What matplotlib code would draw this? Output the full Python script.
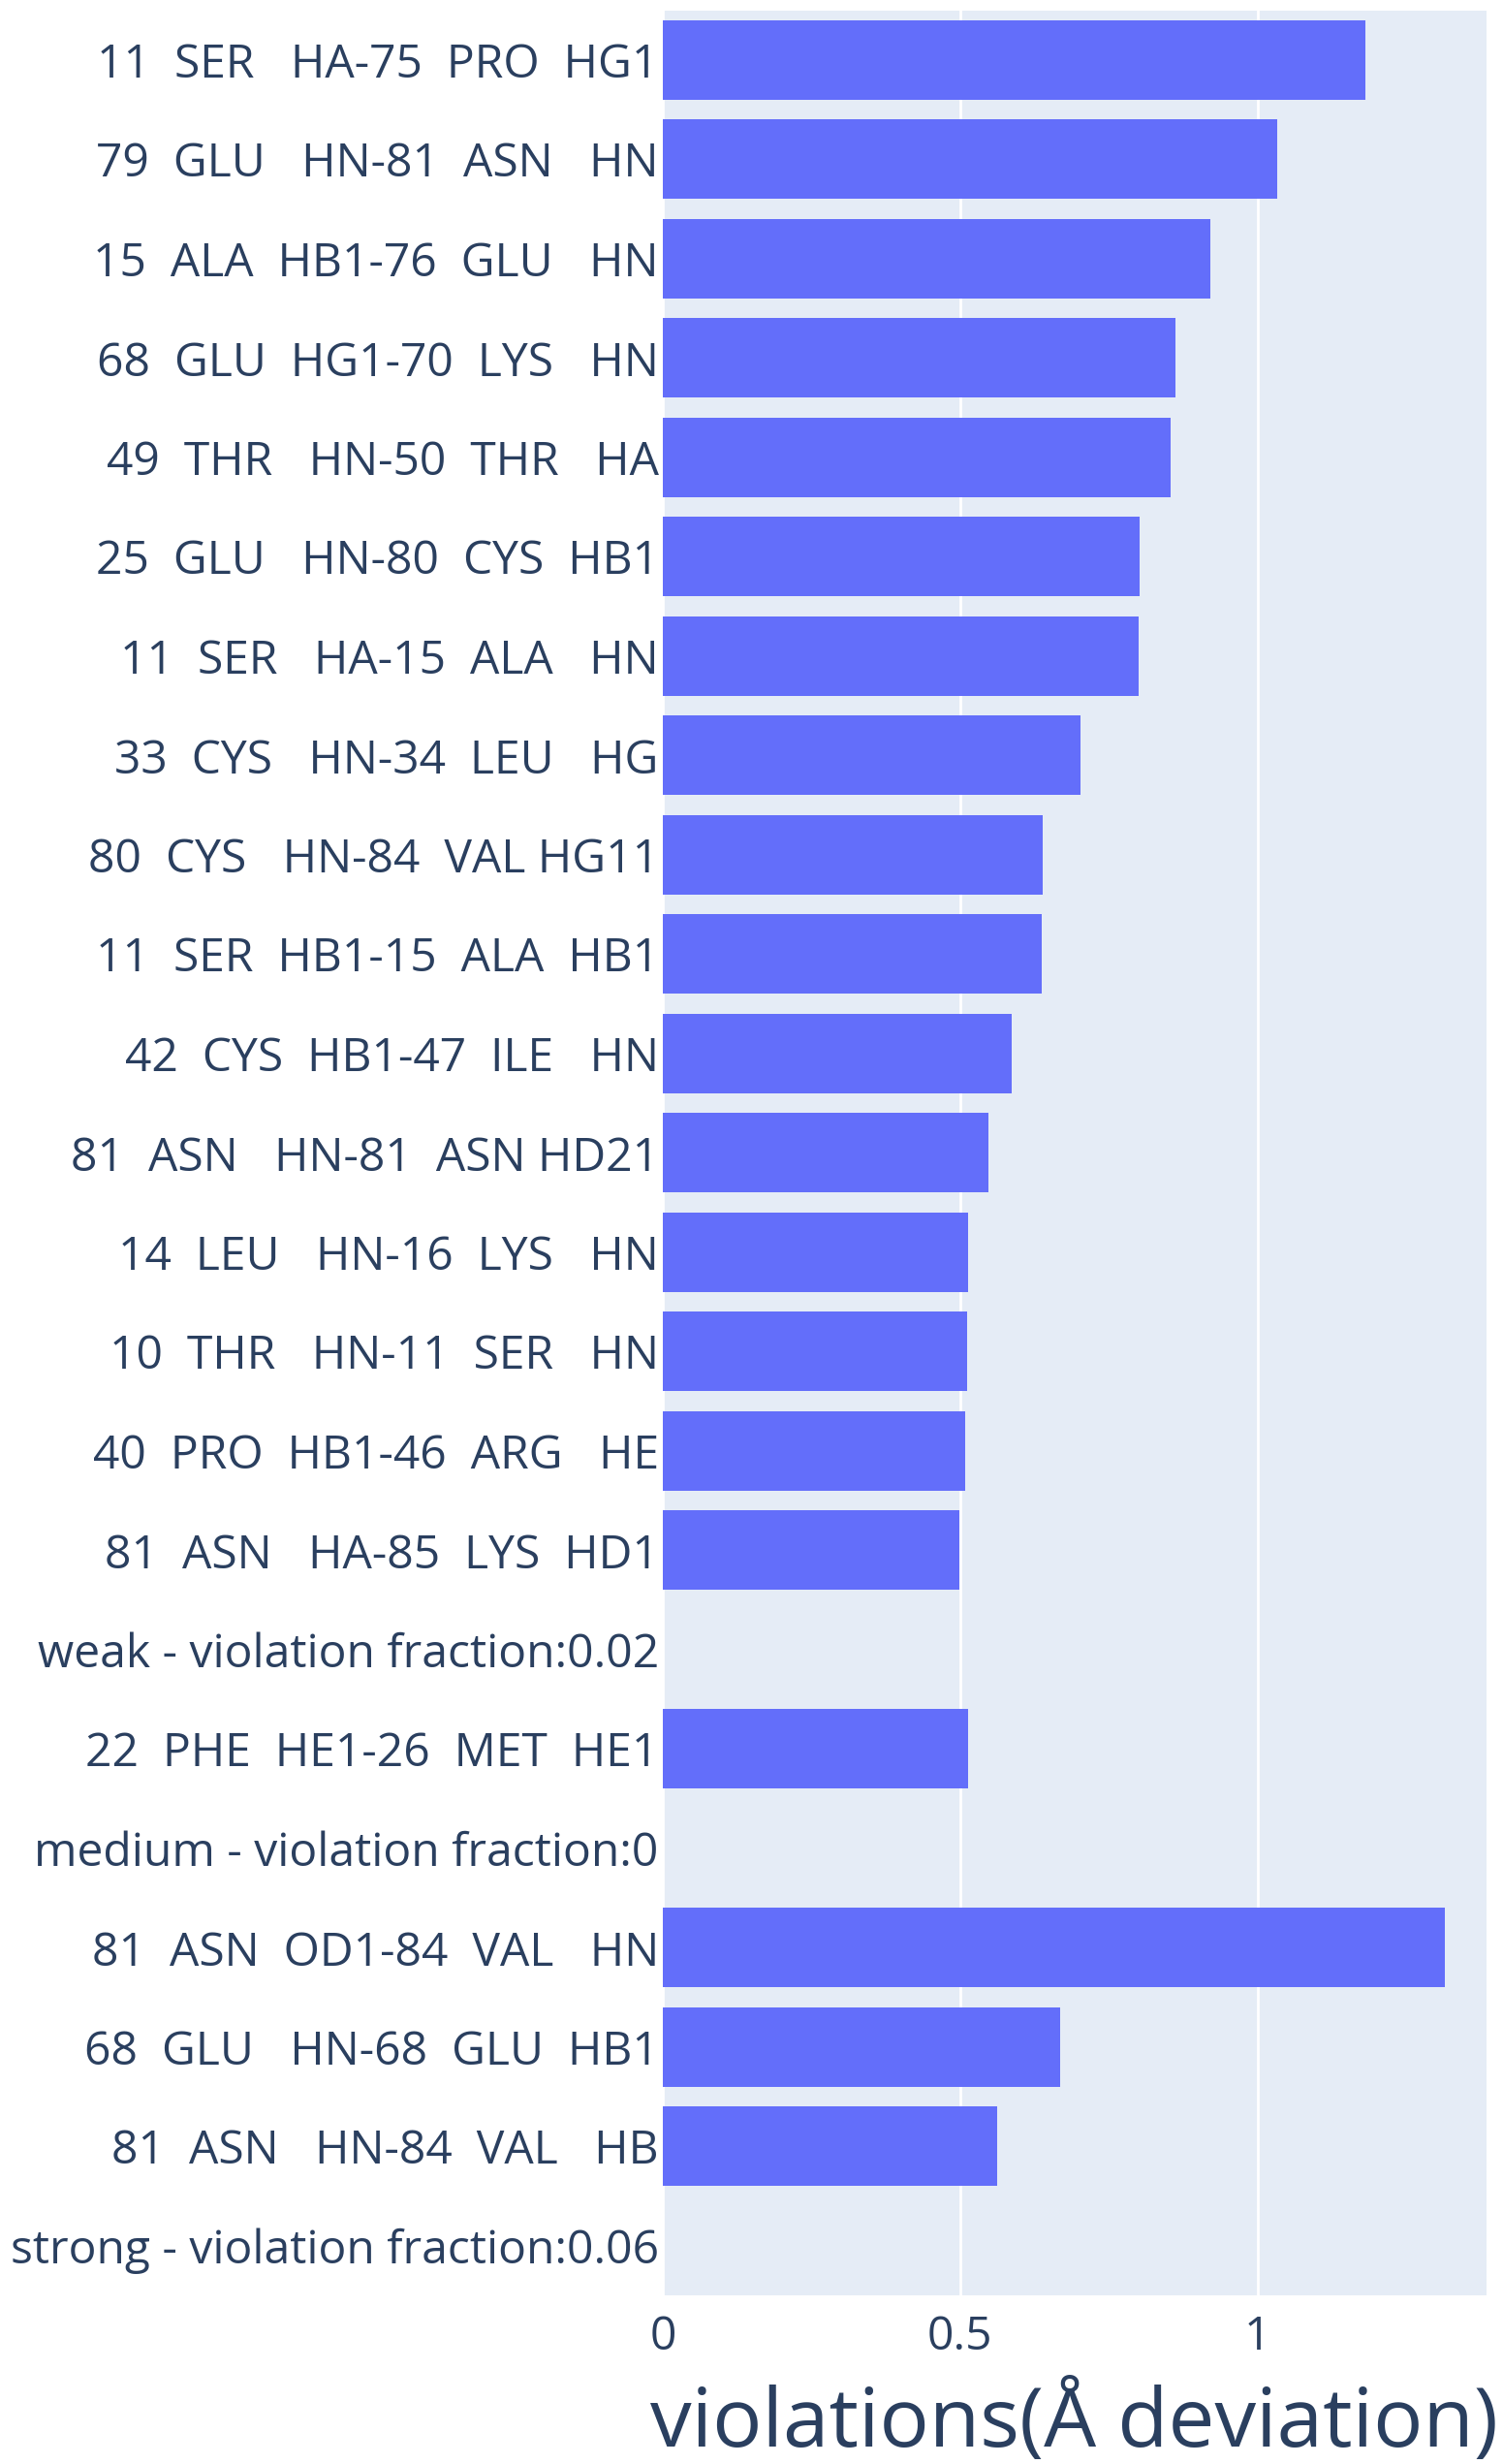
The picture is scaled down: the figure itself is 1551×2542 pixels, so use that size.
import matplotlib
matplotlib.use("Agg")
import matplotlib.pyplot as plt
import numpy as np

plt.rcParams['font.family'] = ['Open Sans', 'DejaVu Sans']

# restraint labels, top to bottom as in the chart
labels = [
    "11  SER   HA-75  PRO  HG1",
    "79  GLU   HN-81  ASN   HN",
    "15  ALA  HB1-76  GLU   HN",
    "68  GLU  HG1-70  LYS   HN",
    "49  THR   HN-50  THR   HA",
    "25  GLU   HN-80  CYS  HB1",
    "11  SER   HA-15  ALA   HN",
    "33  CYS   HN-34  LEU   HG",
    "80  CYS   HN-84  VAL HG11",
    "11  SER  HB1-15  ALA  HB1",
    "42  CYS  HB1-47  ILE   HN",
    "81  ASN   HN-81  ASN HD21",
    "14  LEU   HN-16  LYS   HN",
    "10  THR   HN-11  SER   HN",
    "40  PRO  HB1-46  ARG   HE",
    "81  ASN   HA-85  LYS  HD1",
    "weak - violation fraction:0.02",
    "22  PHE  HE1-26  MET  HE1",
    "medium - violation fraction:0",
    "81  ASN  OD1-84  VAL   HN",
    "68  GLU   HN-68  GLU  HB1",
    "81  ASN   HN-84  VAL   HB",
    "strong - violation fraction:0.06",
]
# violation in Angstrom (nan = group header row, no bar)
violations = [
    1.1815, 1.0337, 0.921, 0.862, 0.8545, 0.802, 0.800, 0.702,
    0.639, 0.6374, 0.587, 0.548, 0.514, 0.511, 0.509, 0.4995,
    np.nan,
    0.514,
    np.nan,
    1.3155, 0.6676, 0.5631,
    np.nan,
]
xticks = [0, 0.5, 1]
xtick_labels = ["0", "0.5", "1"]

W, H = 1551, 2542
fig = plt.figure(figsize=(W / 100, H / 100), dpi=100)
fig.patch.set_facecolor("white")
ax = fig.add_axes([684 / W, 1 - 2368 / H, (1533.5 - 684) / W, (2368 - 10.5) / H])
ax.set_facecolor("#E5ECF6")

y = np.arange(len(labels))
vals = np.array(violations)
mask = ~np.isnan(vals)
ax.barh(y[mask], vals[mask], height=0.8, color="#636EFA", zorder=3)

ax.set_ylim(len(labels) - 0.5, -0.5)
ax.set_xlim(0, 1.3846)
ax.set_yticks(y)
ax.set_yticklabels(labels, fontsize=34.6, color="#2a3f5f")
ax.set_xticks(xticks)
ax.set_xticklabels(xtick_labels, fontsize=34.6, color="#2a3f5f")
ax.tick_params(axis="y", length=0, pad=3)
ax.tick_params(axis="x", length=0, pad=14)
ax.grid(axis="x", color="white", linewidth=2, zorder=1)
for s in ax.spines.values():
    s.set_visible(False)

fig.text((684 + 1533.5) / 2 / W, 18 / H, "violations(Å deviation)",
         fontsize=61.5, color="#2a3f5f", ha="center", va="baseline")

fig.savefig("out.png", dpi=100)
